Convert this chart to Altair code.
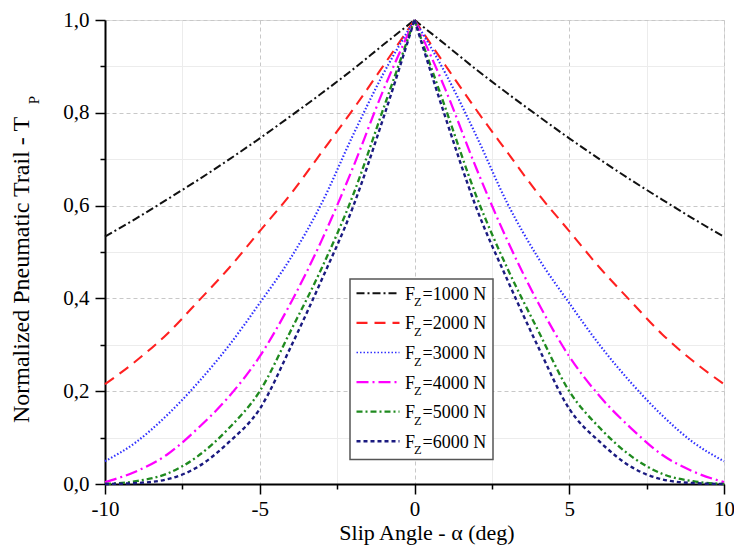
import altair as alt
import pandas as pd

# ---------------- data ----------------
alpha = [-10, -9, -8, -7, -6, -5, -4, -3, -2, -1, 0, 1, 2, 3, 4, 5, 6, 7, 8, 9, 10]

fz_1000 = [0.533, 0.572, 0.613, 0.655, 0.699, 0.745, 0.793, 0.842, 0.893, 0.947, 1.0,
           0.947, 0.893, 0.842, 0.793, 0.745, 0.699, 0.655, 0.613, 0.572, 0.533]
fz_2000 = [0.215, 0.265, 0.323, 0.393, 0.465, 0.545, 0.625, 0.715, 0.806, 0.902, 1.0,
           0.902, 0.806, 0.715, 0.625, 0.545, 0.465, 0.393, 0.323, 0.265, 0.215]
fz_3000 = [0.049, 0.090, 0.148, 0.218, 0.298, 0.390, 0.487, 0.605, 0.750, 0.885, 1.0,
           0.885, 0.750, 0.605, 0.487, 0.390, 0.298, 0.218, 0.148, 0.090, 0.049]
fz_4000 = [0.004, 0.027, 0.063, 0.120, 0.188, 0.275, 0.390, 0.525, 0.680, 0.850, 1.0,
           0.850, 0.680, 0.525, 0.390, 0.275, 0.188, 0.120, 0.063, 0.027, 0.004]
fz_5000 = [0.000, 0.006, 0.022, 0.060, 0.120, 0.200, 0.330, 0.465, 0.620, 0.810, 1.0,
           0.810, 0.620, 0.465, 0.330, 0.200, 0.120, 0.060, 0.022, 0.006, 0.000]
fz_6000 = [0.000, 0.002, 0.010, 0.037, 0.090, 0.162, 0.295, 0.440, 0.595, 0.790, 1.0,
           0.790, 0.595, 0.440, 0.295, 0.162, 0.090, 0.037, 0.010, 0.002, 0.000]

series_labels = ["=1000 N", "=2000 N", "=3000 N", "=4000 N", "=5000 N", "=6000 N"]
series_values = [fz_1000, fz_2000, fz_3000, fz_4000, fz_5000, fz_6000]

x_major = [-10, -5, 0, 5, 10]
x_minor = [-7.5, -2.5, 2.5, 7.5]
y_major = [0.0, 0.2, 0.4, 0.6, 0.8, 1.0]
y_minor = [0.1, 0.3, 0.5, 0.7, 0.9]

# ---------------- styles ----------------
colors = ["#111111", "#ff2020", "#3030ff", "#ff00ff", "#1f8a1f", "#1a1a80"]
dashes = [[8, 3, 2, 3], [11, 7], [1.5, 2], [12, 4, 2, 4], [6, 3, 2, 3], [4, 3]]
widths = [2, 2.4, 1.6, 2.4, 2.2, 2.4]
FONT = "Liberation Serif"

rows = []
for lab, vals in zip(series_labels, series_values):
    for a, v in zip(alpha, vals):
        if a <= 0:
            rows.append({"alpha": a, "tp": v, "series": lab, "side": "L"})
        if a >= 0:
            rows.append({"alpha": a, "tp": v, "series": lab, "side": "R"})
df = pd.DataFrame(rows)

xscale = alt.Scale(domain=[-10, 10], nice=False, zero=False)
yscale = alt.Scale(domain=[0, 1], nice=False, zero=False)

x_axis_major = alt.Axis(
    orient="bottom", values=x_major, labelExpr="'' + datum.value",
    grid=True, gridColor="#c8c8c8", gridDash=[4, 3], gridWidth=1,
    tickSize=10, tickWidth=1.5, tickColor="black",
    domainColor="black", domainWidth=2,
    labelFont=FONT, labelFontSize=21, labelColor="black", labelPadding=4,
    labelFlush=False, title=None,
)
y_axis_major = alt.Axis(
    orient="left", values=y_major,
    labelExpr="replace(format(datum.value, '.1f'), '.', ',')",
    grid=True, gridColor="#c8c8c8", gridDash=[4, 3], gridWidth=1,
    tickSize=10, tickWidth=1.5, tickColor="black",
    domainColor="black", domainWidth=2,
    labelFont=FONT, labelFontSize=21, labelColor="black", labelPadding=6,
    labelFlush=False, title=None,
)
x_axis_minor = alt.Axis(
    orient="bottom", values=x_minor, labels=False, domain=False,
    grid=True, gridColor="#ececec", gridWidth=1,
    tickSize=5, tickWidth=1.5, tickColor="black", title=None,
)
y_axis_minor = alt.Axis(
    orient="left", values=y_minor, labels=False, domain=False,
    grid=True, gridColor="#ececec", gridWidth=1,
    tickSize=5, tickWidth=1.5, tickColor="black", title=None,
)

minor = alt.Chart(df).mark_point(opacity=0).encode(
    x=alt.X("alpha:Q", scale=xscale, axis=x_axis_minor),
    y=alt.Y("tp:Q", scale=yscale, axis=y_axis_minor),
)

lines = alt.Chart(df).mark_line(interpolate="monotone").encode(
    x=alt.X("alpha:Q", scale=xscale, axis=x_axis_major),
    y=alt.Y("tp:Q", scale=yscale, axis=y_axis_major),
    color=alt.Color("series:N", scale=alt.Scale(domain=series_labels, range=colors), legend=None),
    strokeDash=alt.StrokeDash("series:N", scale=alt.Scale(domain=series_labels, range=dashes), legend=None),
    strokeWidth=alt.StrokeWidth("series:N", scale=alt.Scale(domain=series_labels, range=widths), legend=None),
    detail="side:N",
)

one = pd.DataFrame({"k": [0]})

# ---------------- legend (drawn by hand for the Z subscript) ----------------
box = alt.Chart(one).mark_rect(fill="white", stroke="#555555", strokeWidth=1.5).encode(
    x=alt.value(245), x2=alt.value(388), y=alt.value(259), y2=alt.value(439.5)
)
legend_layers = [box]
row0, row_step = 273.3, 29.6
for i, lab in enumerate(series_labels):
    ry = row0 + i * row_step
    legend_layers.append(
        alt.Chart(one).mark_rule(color=colors[i], strokeDash=dashes[i], strokeWidth=widths[i]).encode(
            x=alt.value(251.5), x2=alt.value(294.5), y=alt.value(ry)
        )
    )
    legend_layers.append(
        alt.Chart(one).mark_text(text="F", font=FONT, fontSize=18, align="left",
                                 baseline="alphabetic", color="black").encode(
            x=alt.value(300), y=alt.value(ry + 6.5))
    )
    legend_layers.append(
        alt.Chart(one).mark_text(text="Z", font=FONT, fontSize=12.5, align="left",
                                 baseline="alphabetic", color="black").encode(
            x=alt.value(309), y=alt.value(ry + 13))
    )
    legend_layers.append(
        alt.Chart(one).mark_text(text=lab, font=FONT, fontSize=18, align="left",
                                 baseline="alphabetic", color="black").encode(
            x=alt.value(317.5), y=alt.value(ry + 6.5))
    )

# ---------------- axis titles ----------------
x_title = alt.Chart(one).mark_text(text="Slip Angle - α (deg)", font=FONT, fontSize=22,
                                   align="center", baseline="middle", color="black").encode(
    x=alt.value(322), y=alt.value(513))
y_title = alt.Chart(one).mark_text(text="Normalized Pneumatic Trail - T", font=FONT, fontSize=24,
                                   angle=270, align="center", baseline="middle", color="black").encode(
    x=alt.value(-83), y=alt.value(250))
y_sub = alt.Chart(one).mark_text(text="P", font=FONT, fontSize=15, angle=270,
                                 align="center", baseline="middle", color="black").encode(
    x=alt.value(-71), y=alt.value(80))

chart = alt.layer(minor, lines, *legend_layers, x_title, y_title, y_sub).resolve_axis(
    x="independent", y="independent"
).properties(
    width=619, height=464,
    autosize=alt.AutoSizeParams(type="none"),
    padding={"left": 97, "top": 12, "right": 10, "bottom": 62},
).configure_view(stroke=None).configure(background="white")

chart.save("out.html", embed_options={"renderer": "svg", "actions": False})
